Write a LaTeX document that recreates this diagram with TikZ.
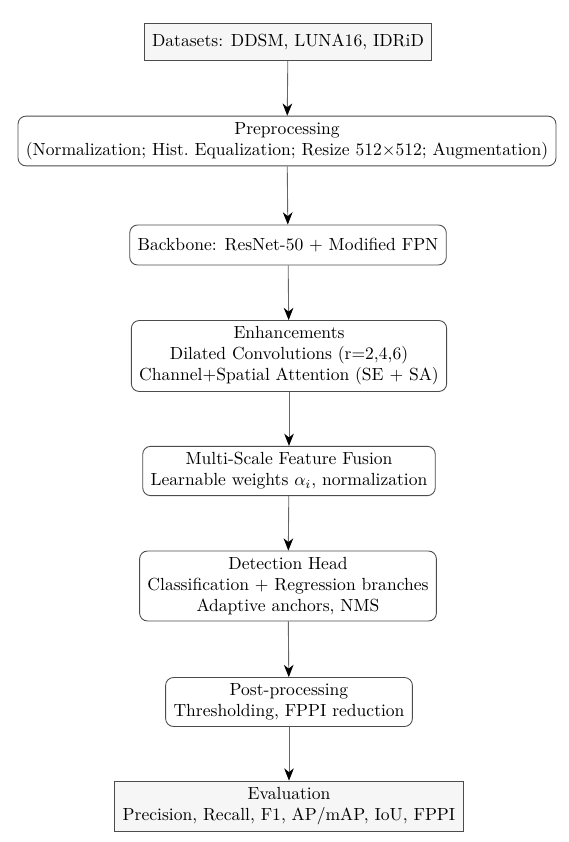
\documentclass[tikz,border=0pt]{standalone}
\usetikzlibrary{arrows.meta}
\begin{document}
\begin{tikzpicture}[x=0.57pt,y=-0.57pt,
  sq/.style={draw=black!70, fill=gray!7, align=center, inner xsep=4.5pt, inner ysep=3.5pt, line width=0.5pt},
  rnd/.style={draw=black!70, fill=white, rounded corners=4.5pt, align=center, inner xsep=4.5pt, inner ysep=3.5pt, line width=0.5pt},
  arr/.style={draw=black!60, line width=0.5pt, -{Stealth[length=7pt,width=5.5pt,inset=2.2pt,black]}}]
\useasboundingbox (0,0) rectangle (569,842);
\node[sq, minimum height=37*0.57pt] (n1) at (288,42) {Datasets: DDSM, LUNA16, IDRiD};
\node[rnd] (n2) at (287,141) {Preprocessing\\(Normalization; Hist.\ Equalization; Resize 512$\times$512; Augmentation)};
\node[rnd, minimum height=40*0.57pt] (n3) at (288,245) {Backbone: ResNet-50 + Modified FPN};
\node[rnd] (n4) at (289,356) {Enhancements\\Dilated Convolutions (r=2,4,6)\\Channel+Spatial Attention (SE + SA)};
\node[rnd] (n5) at (289,471) {Multi-Scale Feature Fusion\\Learnable weights $\alpha_i$, normalization};
\node[rnd] (n6) at (288,586) {Detection Head\\Classification + Regression branches\\Adaptive anchors, NMS};
\node[rnd] (n7) at (289,702) {Post-processing\\Thresholding, FPPI reduction};
\node[sq] (n8) at (289,806) {Evaluation\\Precision, Recall, F1, AP/mAP, IoU, FPPI};
\draw[arr] (n1) -- (n2);
\draw[arr] (n2) -- (n3);
\draw[arr] (n3) -- (n4);
\draw[arr] (n4) -- (n5);
\draw[arr] (n5) -- (n6);
\draw[arr] (n6) -- (n7);
\draw[arr] (n7) -- (n8);
\end{tikzpicture}
\end{document}
